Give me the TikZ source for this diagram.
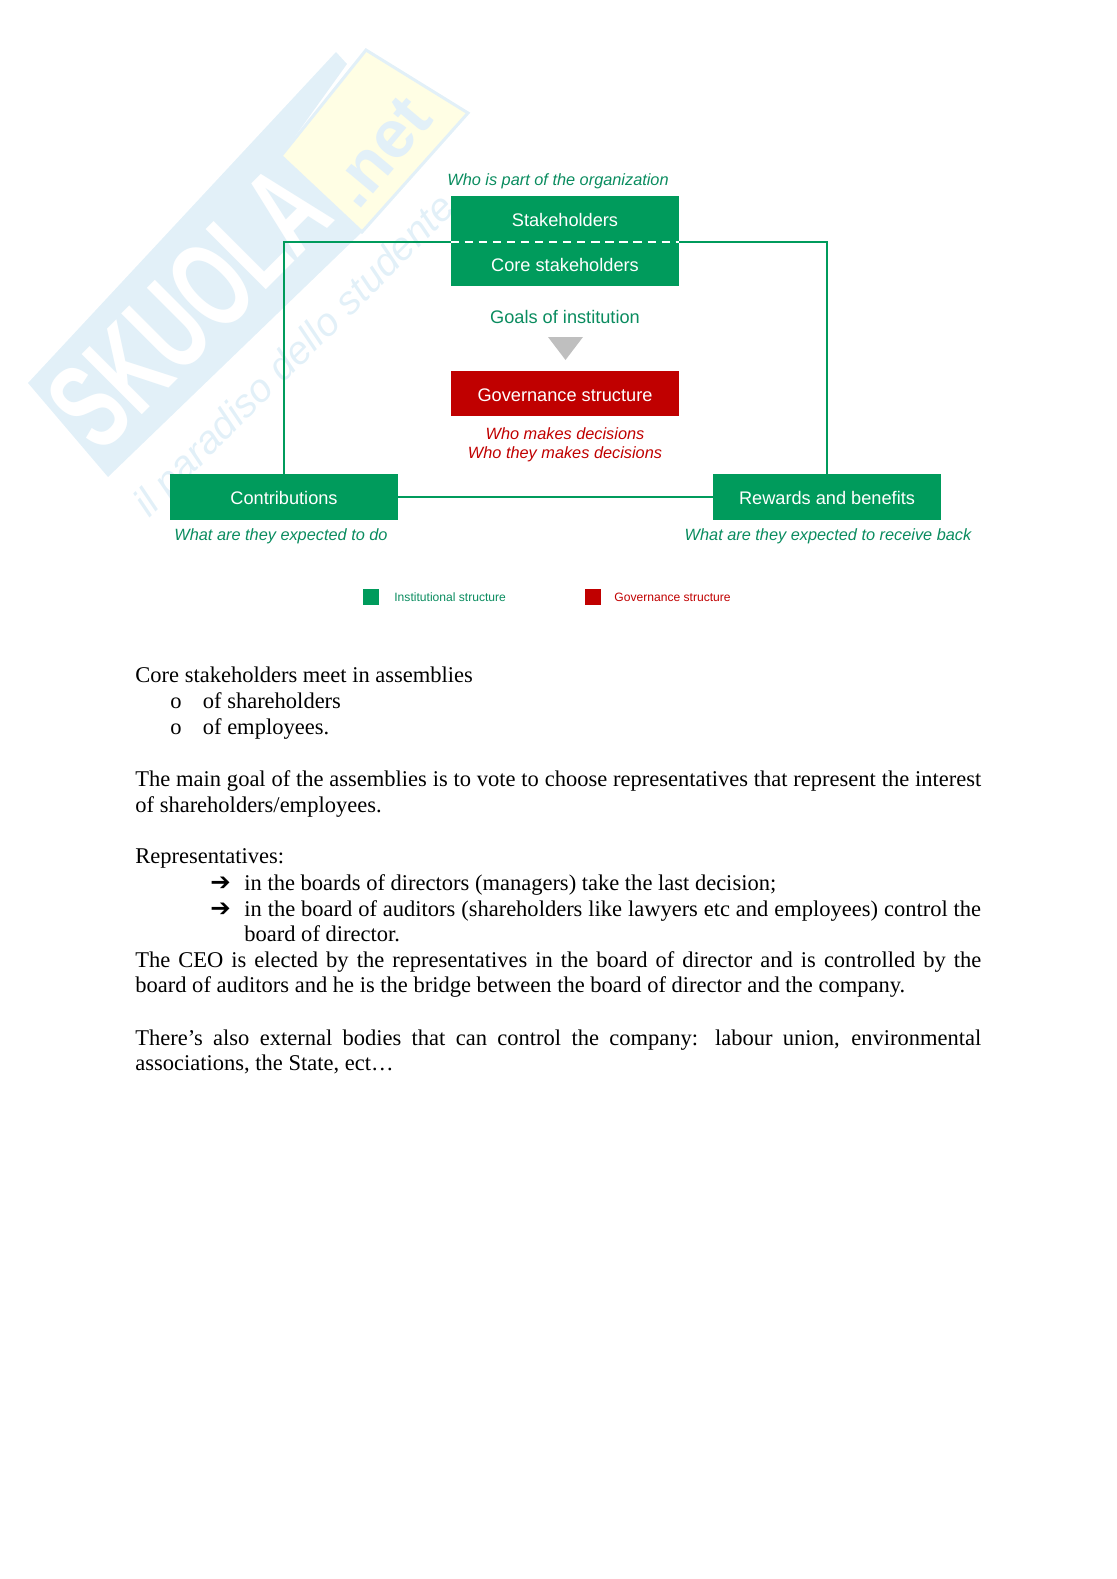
\documentclass[tikz,border=0pt]{standalone}
\usepackage{fontspec}
\setmainfont{Liberation Serif}
\setsansfont{Liberation Sans}
\newfontfamily\arrowfont{DejaVu Sans}
\usetikzlibrary{positioning,calc}
\definecolor{InstGreen}{RGB}{0,155,92}
\definecolor{GovRed}{RGB}{192,0,0}
\definecolor{NoteGreen}{RGB}{10,140,95}
\definecolor{MarkBlue}{RGB}{226,240,248}
\definecolor{MarkYellow}{RGB}{255,254,228}
\tikzset{
  box/.style={draw=none,fill=InstGreen,text=white,font=\sffamily\fontsize{9.7}{12}\selectfont,
    minimum width=121.6pt,minimum height=24pt,inner sep=0pt,text depth=0pt,text height=8pt},
  note/.style={text=NoteGreen,font=\sffamily\itshape\fontsize{8.7}{10.6}\selectfont,inner sep=0pt},
  link/.style={draw=InstGreen,line width=0.9pt},
  swatch/.style={minimum size=8.6pt,inner sep=0pt},
  key/.style={anchor=west,inner sep=0pt,font=\sffamily\fontsize{6.45}{8}\selectfont},
  para/.style={anchor=north west,inner sep=0pt,align=justify,font=\fontsize{12}{13.8}\selectfont,
    execute at begin node=\strut},
}
\begin{document}
\begin{tikzpicture}[x=0.5332pt,y=-0.5332pt]
\useasboundingbox (0,0) rectangle (1116,1579);
% watermark
\fill[MarkBlue] (28,383) -- (336,52) -- (347,64) -- (281,156) -- (362,232) -- (108,477) -- cycle;
\fill[MarkYellow,draw=MarkBlue,line width=1.6pt] (366,50) -- (468,113) -- (362,232) -- (281,156) -- cycle;
\node[rotate=45,transform shape,xscale=0.64,text=white,inner sep=0pt,font=\sffamily\bfseries\fontsize{66}{70}\selectfont] (brand) at (189,307) {SKUOLA};
\node[rotate=50,text=MarkBlue,inner sep=0pt,font=\sffamily\bfseries\fontsize{36}{40}\selectfont] (domain) at (380,152) {.net};
\node[rotate=45,text=MarkBlue,inner sep=0pt,font=\sffamily\itshape\fontsize{21}{24}\selectfont] (motto) at (296,357) {il paradiso dello studente};
% boxes
\node[box] (stake) at (565,219) {Stakeholders};
\node[box] (core) at (565,263.5) {Core stakeholders};
\node[box,fill=GovRed] (gov) at (565,393.7) {Governance structure};
\node[box] (contrib) at (284,497) {Contributions};
\node[box] (reward) at (827,497) {Rewards and benefits};
% links
\draw[link] (contrib.north) |- (stake.south west);
\draw[link] (reward.north) |- (stake.south east);
\draw[link] (contrib.east) -- (reward.west);
\draw[white,line width=0.9pt,dash pattern=on 4.4pt off 3.1pt] (stake.south west) -- (stake.south east);
% notes
\node[note] (who) at (558,181) {Who is part of the organization};
\node[note,font=\sffamily\fontsize{9.7}{12}\selectfont] (goals) at (565,317) {Goals of institution};
\fill[black!25] (548,337) -- (583,337) -- (565.5,360) -- cycle;
\node[note,text=GovRed] (makes) at (565,433.5) {Who makes decisions};
\node[note,text=GovRed] (they) at (565,454.5) {Who they makes decisions};
\node[note] (todo) at (281,536) {What are they expected to do};
\node[note] (back) at (828,536) {What are they expected to receive back};
% legend
\node[swatch,fill=InstGreen] (keyg) at (371,597) {};
\node[swatch,fill=GovRed] (keyr) at (593,597) {};
\node[key,text=NoteGreen] (keygt) at (394,597.5) {Institutional structure};
\node[key,text=GovRed] (keyrt) at (614,597.5) {Governance structure};
% body text
\node[para,text width=451pt] (p1) at (135,664.5) {Core stakeholders meet in assemblies};
\node[para] (b1) at (170,690.5) {o};
\node[para] (t1) at (202.5,690.5) {of shareholders};
\node[para] (b2) at (170,716.5) {o};
\node[para] (t2) at (202.5,716.5) {of employees.};
\node[para,text width=451pt] (p2) at (135,768) {The main goal of the assemblies is to vote to choose representatives that represent the interest\linebreak of shareholders/employees.};
\node[para] (p3) at (135,845) {Representatives:};
\node[para] (a1) at (210,871.5) {{\arrowfont\bfseries\fontsize{13}{13.8}\selectfont ➔}};
\node[para,text width=392.8pt] (t3) at (244,871.5) {in the boards of directors (managers) take the last decision;};
\node[para] (a2) at (210,897.5) {{\arrowfont\bfseries\fontsize{13}{13.8}\selectfont ➔}};
\node[para,text width=392.8pt] (t4) at (244,897.5) {in the board of auditors (shareholders like lawyers etc and employees) control the\linebreak board of director.};
\node[para,text width=451pt] (p4) at (135,948.5) {The CEO is elected by the representatives in the board of director and is controlled by the\linebreak board of auditors and he is the bridge between the board of director and the company.};
\node[para,text width=451pt] (p5) at (135,1026.5) {There’s also external bodies that can control the company: labour union, environmental\linebreak associations, the State, ect…};
\end{tikzpicture}
\end{document}
